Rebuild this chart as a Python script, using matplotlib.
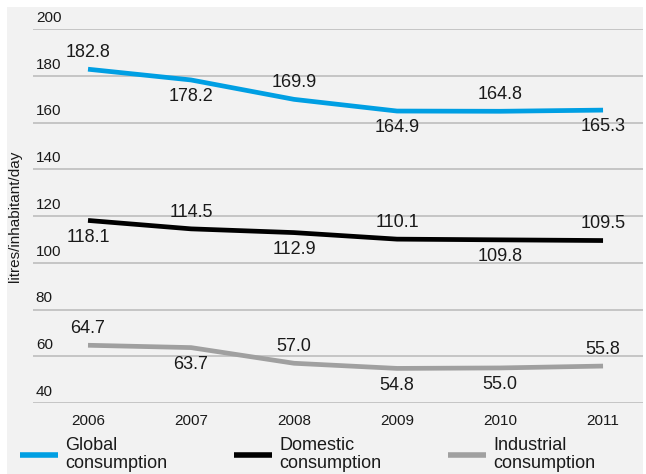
import matplotlib.pyplot as plt
import matplotlib.patches as mpatches
from matplotlib.transforms import blended_transform_factory, offset_copy

plt.rcParams['font.family'] = ['Liberation Sans', 'DejaVu Sans']

# datos
years = ['2006', '2007', '2008', '2009', '2010', '2011']
global_cons = [182.8, 178.2, 169.9, 164.9, 164.8, 165.3]
domestic_cons = [118.1, 114.5, 112.9, 110.1, 109.8, 109.5]
industrial_cons = [64.7, 63.7, 57.0, 54.8, 55.0, 55.8]
yticks = [40, 60, 80, 100, 120, 140, 160, 180, 200]

# etiquetas arriba (+1) o abajo (-1) de la linea
global_pos = [1, -1, 1, -1, 1, -1]
domestic_pos = [-1, 1, -1, 1, -1, 1]
industrial_pos = [1, -1, 1, -1, -1, 1]

fig = plt.figure(figsize=(6.46, 4.74), dpi=100, facecolor='white')
fig.patches.append(mpatches.Rectangle((7 / 646, 0), 636 / 646, 467 / 474,
                                      transform=fig.transFigure,
                                      facecolor='#f2f2f2', edgecolor='none', zorder=-5))

ax = fig.add_axes([33 / 646, 71 / 474, 610 / 646, 374 / 474])
ax.set_facecolor('none')
ax.set_ylim(40, 200)
ax.set_xlim(-0.534, 5.388)
for s in ax.spines.values():
    s.set_visible(False)

for y in yticks:
    ax.axhline(y, color='#c2c2c2', linewidth=1.3, zorder=1)

# etiquetas del eje y sobre las lineas de la grilla
tr = offset_copy(blended_transform_factory(ax.transAxes, ax.transData), fig=fig, x=2, y=3, units='points')
for y in yticks:
    ax.text(0, y, str(y), transform=tr, ha='left', va='bottom', fontsize=11, color='#1a1a1a')

ax.set_yticks([])
x = list(range(len(years)))
ax.set_xticks(x)
ax.set_xticklabels(years, fontsize=11, color='#1a1a1a')
ax.tick_params(axis='x', length=0, pad=8)

series = [
    (global_cons, global_pos, '#009fe3', 'Global\nconsumption'),
    (domestic_cons, domestic_pos, '#000000', 'Domestic\nconsumption'),
    (industrial_cons, industrial_pos, '#a0a0a0', 'Industrial\nconsumption'),
]

handles = []
for vals, pos, color, label in series:
    ln, = ax.plot(x, vals, color=color, linewidth=3.4, solid_capstyle='butt',
                  solid_joinstyle='round', zorder=3, label=label)
    handles.append(ln)
    for xi, v, p in zip(x, vals, pos):
        ax.annotate(f'{v:.1f}', (xi, v), xytext=(0, 12 * p), textcoords='offset points',
                    ha='center', va='center', fontsize=13, color='#1a1a1a', zorder=4)

ax.set_ylabel('litres/inhabitant/day', fontsize=11, color='#1a1a1a')
ax.yaxis.set_label_coords(-0.018, 0.5)

leg = fig.legend(handles=handles, loc='lower left', bbox_to_anchor=(20 / 646, 2 / 474),
                 ncol=3, frameon=False, fontsize=13, handlelength=2.1, handletextpad=0.4,
                 columnspacing=3.7, borderpad=0, borderaxespad=0, labelspacing=0)
for t in leg.get_texts():
    t.set_color('#1a1a1a')
    t.set_linespacing(1.05)
for h in leg.legend_handles:
    h.set_linewidth(4)

fig.savefig('out.png', dpi=100)
